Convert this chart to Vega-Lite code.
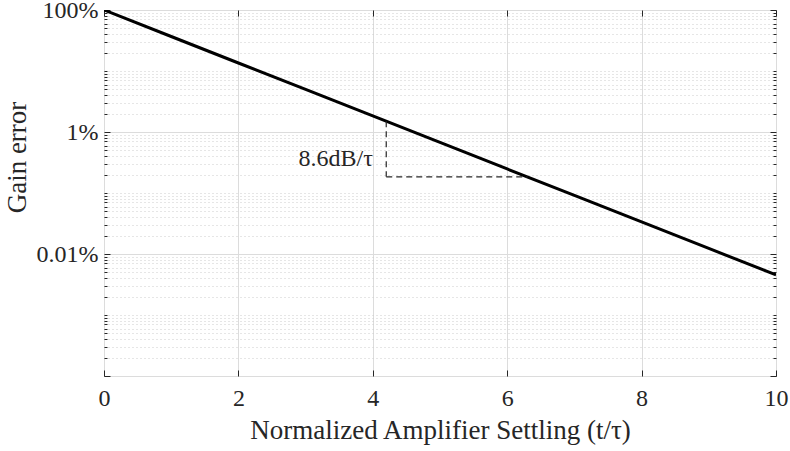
{
  "$schema": "https://vega.github.io/schema/vega-lite/v6.json",
  "width": 672,
  "height": 366,
  "autosize": {"type": "none"},
  "padding": {"left": 104, "top": 10, "right": 14, "bottom": 75},
  "background": "white",
  "config": {
    "view": {"stroke": "#262626", "strokeWidth": 1},
    "font": "Liberation Serif",
    "axis": {
      "labelFont": "Liberation Serif",
      "titleFont": "Liberation Serif",
      "labelFontSize": 24,
      "titleFontSize": 27,
      "titleFontWeight": "normal",
      "labelColor": "#262626",
      "titleColor": "#262626",
      "tickColor": "#262626",
      "domainColor": "#262626",
      "domain": false
    }
  },
  "layer": [
    {
      "data": {"values": [
        {"t": 0, "error": 1},
        {"t": 1, "error": 0.3679},
        {"t": 2, "error": 0.1353},
        {"t": 3, "error": 0.04979},
        {"t": 4, "error": 0.01832},
        {"t": 5, "error": 0.006738},
        {"t": 6, "error": 0.002479},
        {"t": 7, "error": 0.000912},
        {"t": 8, "error": 0.0003355},
        {"t": 9, "error": 0.0001234},
        {"t": 10, "error": 0.0000454}
      ]},
      "mark": {"type": "line", "color": "black", "strokeWidth": 3, "clip": true},
      "encoding": {
        "x": {
          "field": "t", "type": "quantitative",
          "scale": {"domain": [0, 10], "nice": false, "zero": false},
          "axis": {
            "orient": "bottom",
            "values": [0, 2, 4, 6, 8, 10],
            "title": "Normalized Amplifier Settling (t/τ)",
            "tickSize": -6,
            "labelPadding": 16,
            "labelFlush": false,
            "labelBound": false,
            "titlePadding": 7,
            "grid": true,
            "gridColor": "#dcdcdc",
            "gridWidth": 1
          }
        },
        "y": {
          "field": "error", "type": "quantitative",
          "scale": {"type": "log", "domain": [0.000001, 1], "nice": false},
          "axis": {
            "orient": "left",
            "values": [0.000001, 0.000002, 0.000003, 0.000004, 0.000005, 0.000006, 0.000007, 0.000008, 0.000009,
                       0.00001, 0.00002, 0.00003, 0.00004, 0.00005, 0.00006, 0.00007, 0.00008, 0.00009,
                       0.0001, 0.0002, 0.0003, 0.0004, 0.0005, 0.0006, 0.0007, 0.0008, 0.0009,
                       0.001, 0.002, 0.003, 0.004, 0.005, 0.006, 0.007, 0.008, 0.009,
                       0.01, 0.02, 0.03, 0.04, 0.05, 0.06, 0.07, 0.08, 0.09,
                       0.1, 0.2, 0.3, 0.4, 0.5, 0.6, 0.7, 0.8, 0.9, 1],
            "labelExpr": "datum.value == 1 ? '100%' : datum.value == 0.01 ? '1%' : datum.value == 0.0001 ? '0.01%' : ''",
            "title": "Gain error",
            "titleX": -87,
            "titleY": 147,
            "titleBaseline": "middle",
            "labelPadding": 12,
            "labelBound": false,
            "labelOverlap": false,
            "labelFlush": false,
            "tickSize": {"condition": {"test": "datum.value == 1 || datum.value == 0.01 || datum.value == 0.0001 || datum.value == 0.000001", "value": -6}, "value": -3},
            "grid": true,
            "gridColor": {"condition": {"test": "datum.value == 1 || datum.value == 0.01 || datum.value == 0.0001 || datum.value == 0.000001", "value": "#dcdcdc"}, "value": "#cccccc"},
            "gridDash": {"condition": {"test": "datum.value == 1 || datum.value == 0.01 || datum.value == 0.0001 || datum.value == 0.000001", "value": []}, "value": [1, 3]}
          }
        }
      }
    },
    {
      "data": {"values": [
        {"x1": 4.2, "y1": 0.015, "x2": 4.2, "y2": 0.00184},
        {"x1": 4.2, "y1": 0.00184, "x2": 6.3, "y2": 0.00184}
      ]},
      "mark": {"type": "rule", "strokeDash": [6, 4], "color": "#262626", "strokeWidth": 1.2},
      "encoding": {
        "x": {
          "field": "x1", "type": "quantitative",
          "axis": {"orient": "top", "values": [0, 2, 4, 6, 8, 10], "labels": false, "title": null, "tickSize": -6, "grid": false}
        },
        "x2": {"field": "x2"},
        "y": {
          "field": "y1", "type": "quantitative",
          "axis": {
            "orient": "right",
            "values": [0.000001, 0.000002, 0.000003, 0.000004, 0.000005, 0.000006, 0.000007, 0.000008, 0.000009,
                       0.00001, 0.00002, 0.00003, 0.00004, 0.00005, 0.00006, 0.00007, 0.00008, 0.00009,
                       0.0001, 0.0002, 0.0003, 0.0004, 0.0005, 0.0006, 0.0007, 0.0008, 0.0009,
                       0.001, 0.002, 0.003, 0.004, 0.005, 0.006, 0.007, 0.008, 0.009,
                       0.01, 0.02, 0.03, 0.04, 0.05, 0.06, 0.07, 0.08, 0.09,
                       0.1, 0.2, 0.3, 0.4, 0.5, 0.6, 0.7, 0.8, 0.9, 1],
            "labels": false, "title": null, "grid": false,
            "tickSize": {"condition": {"test": "datum.value == 1 || datum.value == 0.01 || datum.value == 0.0001 || datum.value == 0.000001", "value": -6}, "value": -3}
          }
        },
        "y2": {"field": "y2"}
      }
    },
    {
      "data": {"values": [{"x": 4.0, "y": 0.0036, "label": "8.6dB/τ"}]},
      "mark": {"type": "text", "align": "right", "baseline": "middle", "fontSize": 24, "font": "Liberation Serif", "color": "#262626"},
      "encoding": {
        "x": {"field": "x", "type": "quantitative", "axis": null},
        "y": {"field": "y", "type": "quantitative", "axis": null},
        "text": {"field": "label"}
      }
    }
  ],
  "resolve": {"axis": {"x": "independent", "y": "independent"}}
}
